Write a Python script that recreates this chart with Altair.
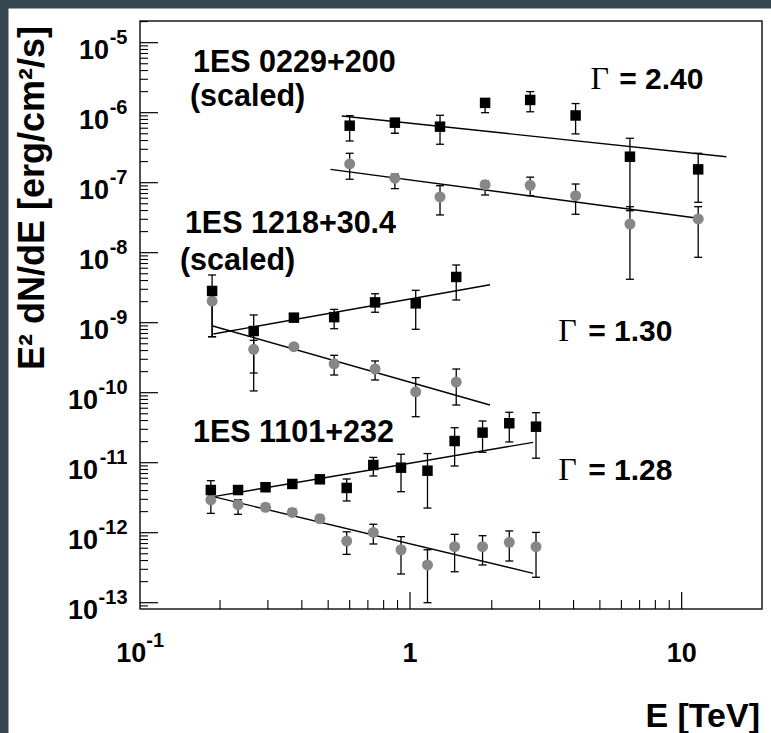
import altair as alt
import pandas as pd

# ---------------- data ----------------
# 1ES 0229+200 (scaled)
E_0229 = [0.60, 0.88, 1.29, 1.89, 2.77, 4.07, 6.45, 11.5]
sq_0229 = [6.52e-7, 7.19e-7, 6.31e-7, 1.38e-6, 1.52e-6, 9.12e-7, 2.35e-7, 1.55e-7]
sq_0229_hi = [9.06e-7, 8.3e-7, 9.18e-7, 1.58e-6, 2.0e-6, 1.35e-6, 4.31e-7, 2.63e-7]
sq_0229_lo = [3.94e-7, 5.08e-7, 3.54e-7, 1.0e-6, 1.03e-6, 4.97e-7, 3.98e-8, 5.25e-8]
ci_0229 = [1.85e-7, 1.16e-7, 6.25e-8, 9.35e-8, 9.18e-8, 6.52e-8, 2.57e-8, 3.03e-8]
ci_0229_hi = [2.63e-7, 1.32e-7, 9.06e-8, 1.05e-7, 1.2e-7, 9.57e-8, 4.54e-8, 4.54e-8]
ci_0229_lo = [1.12e-7, 8.2e-8, 3.46e-8, 6.67e-8, 6.52e-8, 3.54e-8, 4.17e-9, 8.59e-9]

# 1ES 1218+30.4 (scaled)
E_1218 = [0.187, 0.266, 0.374, 0.526, 0.744, 1.05, 1.48]
sq_1218 = [2.84e-9, 7.6e-10, 1.18e-9, 1.2e-9, 1.95e-9, 1.89e-9, 4.5e-9]
sq_1218_hi = [4.8e-9, 1.29e-9, 1.32e-9, 1.55e-9, 2.59e-9, 2.9e-9, 6.67e-9]
sq_1218_lo = [6.3e-10, 1.06e-10, 1.07e-9, 8.2e-10, 1.41e-9, 8.05e-10, 2.11e-9]
ci_1218 = [2.04e-9, 4.17e-10, 4.54e-10, 2.59e-10, 2.18e-10, 1.03e-10, 1.42e-10]
ci_1218_hi = [2.51e-9, 5.6e-10, 5.0e-10, 3.42e-10, 2.84e-10, 1.64e-10, 2.18e-10]
ci_1218_lo = [6.3e-10, 1.91e-10, 4.07e-10, 1.79e-10, 1.52e-10, 4.54e-11, 6.67e-11]

# 1ES 1101+232
E_1101 = [0.185, 0.233, 0.294, 0.369, 0.466, 0.585, 0.733, 0.927, 1.16, 1.46, 1.85, 2.32, 2.91]
sq_1101 = [4.07e-12, 4.07e-12, 4.46e-12, 4.97e-12, 5.79e-12, 4.36e-12, 9.27e-12,
           8.49e-12, 7.69e-12, 2.04e-11, 2.69e-11, 3.66e-11, 3.27e-11]
sq_1101_hi = [5.53e-12, 4.68e-12, 5.01e-12, 5.62e-12, 6.46e-12, 5.85e-12, 1.19e-11,
              1.32e-11, 1.35e-11, 3.16e-11, 3.94e-11, 5.25e-11, 5.18e-11]
sq_1101_lo = [3.55e-12, 3.55e-12, 3.98e-12, 4.47e-12, 5.25e-12, 2.84e-12, 6.46e-12,
              3.85e-12, 2.25e-12, 8.97e-12, 1.41e-11, 1.98e-11, 1.16e-11]
ci_1101 = [2.95e-12, 2.51e-12, 2.31e-12, 1.95e-12, 1.58e-12, 7.6e-13, 1.01e-12,
           5.71e-13, 3.46e-13, 6.31e-13, 6.31e-13, 7.29e-13, 6.31e-13]
ci_1101_hi = [3.55e-12, 2.95e-12, 2.57e-12, 2.19e-12, 1.78e-12, 1.03e-12, 1.32e-12,
              8.77e-13, 5.71e-13, 9.48e-13, 9.06e-13, 1.06e-12, 1.01e-12]
ci_1101_lo = [1.89e-12, 1.83e-12, 2.09e-12, 1.78e-12, 1.41e-12, 4.91e-13, 6.9e-13,
              2.57e-13, 1.0e-13, 2.77e-13, 3.46e-13, 3.94e-13, 2.31e-13]

# power-law fit lines (end points)
fit_names = ["0229_sq", "0229_ci", "1218_sq", "1218_ci", "1101_sq", "1101_ci"]
fit_E0 = [0.561, 0.51, 0.189, 0.188, 0.189, 0.189]
fit_F0 = [8.97e-7, 1.55e-7, 6.9e-10, 8.97e-10, 3.27e-12, 3.27e-12]
fit_E1 = [14.6, 11.5, 1.97, 1.97, 2.84, 2.84]
fit_F1 = [2.35e-7, 3.1e-8, 3.49e-9, 6.67e-11, 1.95e-11, 2.63e-13]

# text annotations (anchor in data coordinates)
src_labels = ["1ES 0229+200", "(scaled)", "1ES 1218+30.4", "(scaled)", "1ES 1101+232"]
src_E = [0.159, 0.155, 0.1485, 0.1424, 0.159]
src_F = [3.81e-6, 1.25e-6, 1.89e-8, 5.66e-9, 2.0e-11]
gamma_values = ["= 2.40", "= 1.30", "= 1.28"]
gamma_E = [4.62, 3.51, 3.51]
gamma_val_E = [5.89, 4.53, 4.53]
gamma_F = [2.16e-6, 5.48e-10, 5.66e-12]

# axis tick labels
y_exps = [-5, -6, -7, -8, -9, -10, -11, -12, -13]
x_center_labels = ["1", "10"]
x_center_vals = [1.0, 10.0]

# ---------------- build tables ----------------
def series(E, v, lo, hi, kind):
    return pd.DataFrame({"E": E, "F": v, "lo": lo, "hi": hi, "kind": kind})

pts = pd.concat([
    series(E_0229, sq_0229, sq_0229_lo, sq_0229_hi, "sq"),
    series(E_0229, ci_0229, ci_0229_lo, ci_0229_hi, "ci"),
    series(E_1218, sq_1218, sq_1218_lo, sq_1218_hi, "sq"),
    series(E_1218, ci_1218, ci_1218_lo, ci_1218_hi, "ci"),
    series(E_1101, sq_1101, sq_1101_lo, sq_1101_hi, "sq"),
    series(E_1101, ci_1101, ci_1101_lo, ci_1101_hi, "ci"),
], ignore_index=True)
caps = pd.concat([
    pts[["E", "lo"]].rename(columns={"lo": "F"}),
    pts[["E", "hi"]].rename(columns={"hi": "F"}),
], ignore_index=True)
fits = pd.DataFrame({
    "fit": fit_names * 2,
    "E": fit_E0 + fit_E1,
    "F": fit_F0 + fit_F1,
})
ann = pd.DataFrame({"t": src_labels, "E": src_E, "F": src_F})
gam = pd.DataFrame({"t": ["Γ"] * 3, "E": gamma_E, "F": gamma_F})
gamv = pd.DataFrame({"t": gamma_values, "E": gamma_val_E, "F": gamma_F})

XMIN, XMAX = 0.1015, 19.75
YMIN, YMAX = 8.13e-14, 2.04e-5
y_major = [10.0 ** k for k in range(-13, -4)]
y_minor = [m * 10.0 ** k for k in range(-14, -4) for m in range(2, 10)
           if YMIN < m * 10.0 ** k < YMAX]
x_major = [1.0, 10.0]
x_minor = [m * 10.0 ** k for k in (-1, 0, 1) for m in range(2, 10)
           if m * 10.0 ** k < XMAX]

ylab = pd.DataFrame({"F": [10.0 ** e for e in y_exps],
                     "base": ["10"] * len(y_exps),
                     "exp": [str(e) for e in y_exps],
                     "two": [abs(e) >= 10 for e in y_exps]})
xlab_c = pd.DataFrame({"E": x_center_vals, "t": x_center_labels})
xlab_s = pd.DataFrame({"E": [0.1], "base": ["10"], "exp": ["-1"]})

# ---------------- chart ----------------
W, H = 622, 588
SANS = "Liberation Sans"
SERIF = "Liberation Serif"
xs = alt.Scale(type="log", domain=[XMIN, XMAX], nice=False)
ys = alt.Scale(type="log", domain=[YMIN, YMAX], nice=False)

def X(f="E"):
    return alt.X(f"{f}:Q", scale=xs, axis=None)

def Y(f="F"):
    return alt.Y(f"{f}:Q", scale=ys, axis=None)

lines = alt.Chart(fits).mark_line(color="black", strokeWidth=1.4).encode(
    x=X(), y=Y(), detail="fit:N")
bars = alt.Chart(pts).mark_rule(color="black", strokeWidth=1.3).encode(
    x=X(), y=Y("lo"), y2=alt.Y2("hi:Q"))
capm = alt.Chart(caps).mark_tick(orient="horizontal", size=8, thickness=1.3,
                                 color="black", opacity=1).encode(x=X(), y=Y())
circles = alt.Chart(pts[pts.kind == "ci"]).mark_point(
    shape="circle", filled=True, size=121, color="#878787", opacity=1).encode(x=X(), y=Y())
squares = alt.Chart(pts[pts.kind == "sq"]).mark_point(
    shape="square", filled=True, size=110, color="black", opacity=1).encode(x=X(), y=Y())

ymaj = alt.Chart(pd.DataFrame({"F": y_major})).mark_rule(color="black", strokeWidth=1.2).encode(
    y=Y(), x=alt.value(0), x2=alt.value(18))
ymin_ = alt.Chart(pd.DataFrame({"F": y_minor})).mark_rule(color="black", strokeWidth=1.1).encode(
    y=Y(), x=alt.value(0), x2=alt.value(8))
xmaj = alt.Chart(pd.DataFrame({"E": x_major})).mark_rule(color="black", strokeWidth=1.2).encode(
    x=X(), y=alt.value(H), y2=alt.value(H - 17))
xmin_ = alt.Chart(pd.DataFrame({"E": x_minor})).mark_rule(color="black", strokeWidth=1.1).encode(
    x=X(), y=alt.value(H), y2=alt.value(H - 9))

ybase1 = alt.Chart(ylab[~ylab.two]).mark_text(
    align="right", baseline="alphabetic", font=SANS, fontSize=27, fontWeight="bold", dy=16
).encode(y=Y(), x=alt.value(-31), text="base:N")
ybase2 = alt.Chart(ylab[ylab.two]).mark_text(
    align="right", baseline="alphabetic", font=SANS, fontSize=27, fontWeight="bold", dy=16
).encode(y=Y(), x=alt.value(-42), text="base:N")
yexp = alt.Chart(ylab).mark_text(
    align="right", baseline="alphabetic", font=SANS, fontSize=20, fontWeight="bold", dy=1
).encode(y=Y(), x=alt.value(-12.5), text="exp:N")

xc = alt.Chart(xlab_c).mark_text(
    align="center", baseline="alphabetic", font=SANS, fontSize=27, fontWeight="bold"
).encode(x=X(), y=alt.value(H + 52.5), text="t:N")
xsb = alt.Chart(xlab_s).mark_text(
    align="right", baseline="alphabetic", font=SANS, fontSize=27, fontWeight="bold", dx=8
).encode(x=X(), y=alt.value(H + 52.5), text="base:N")
xse = alt.Chart(xlab_s).mark_text(
    align="left", baseline="alphabetic", font=SANS, fontSize=20, fontWeight="bold", dx=8
).encode(x=X(), y=alt.value(H + 37.7), text="exp:N")

anns = alt.Chart(ann).mark_text(
    align="left", baseline="alphabetic", font=SANS, fontSize=30.5, fontWeight="bold"
).encode(x=X(), y=Y(), text="t:N")
gams = alt.Chart(gam).mark_text(
    align="left", baseline="alphabetic", font=SERIF, fontSize=32, fontWeight="normal"
).encode(x=X(), y=Y(), text="t:N")
gamvs = alt.Chart(gamv).mark_text(
    align="left", baseline="alphabetic", font=SANS, fontSize=30, fontWeight="bold"
).encode(x=X(), y=Y(), text="t:N")

ytitle = alt.Chart(pd.DataFrame({"t": ["E² dN/dE [erg/cm²/s]"]})).mark_text(
    angle=270, align="left", baseline="alphabetic", font=SANS, fontSize=36, fontWeight="bold"
).encode(x=alt.value(-96.5), y=alt.value(349), text="t:N")
xtitle = alt.Chart(pd.DataFrame({"t": ["E [TeV]"]})).mark_text(
    align="right", baseline="alphabetic", font=SANS, fontSize=34, fontWeight="bold"
).encode(x=alt.value(620), y=alt.value(H + 117.5), text="t:N")

one = pd.DataFrame({"k": [0]})
strip_left = alt.Chart(one).mark_rect(color="#37474f").encode(
    x=alt.value(-140), x2=alt.value(-131.5), y=alt.value(-21), y2=alt.value(H + 124))
strip_top = alt.Chart(one).mark_rect(color="#37474f").encode(
    x=alt.value(-140), x2=alt.value(W + 9), y=alt.value(-21), y2=alt.value(-12.5))

chart = alt.layer(
    lines, bars, capm, circles, squares,
    ymaj, ymin_, xmaj, xmin_,
    ybase1, ybase2, yexp, xc, xsb, xse,
    anns, gams, gamvs, ytitle, xtitle,
    strip_left, strip_top,
).properties(
    width=W, height=H,
    padding={"left": 140, "top": 21, "right": 9, "bottom": 124},
    autosize=alt.AutoSizeParams(type="none"),
    background="white",
).configure_view(stroke="#1a1a1a", strokeWidth=1.5)

chart.save("out.html", embed_options={"renderer": "svg", "actions": False})
